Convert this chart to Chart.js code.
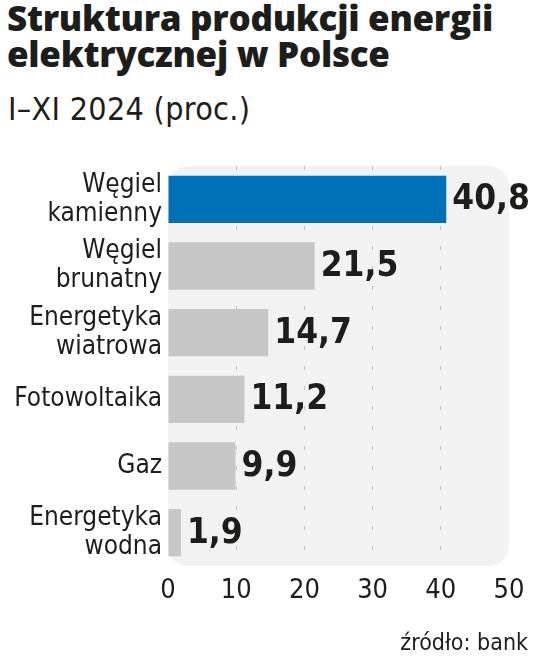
<!DOCTYPE html>
<html>
<head>
<meta charset="utf-8">
<script src="https://cdn.jsdelivr.net/npm/chart.js@4/dist/chart.umd.min.js"></script>
<style>
  html, body { margin: 0; padding: 0; background: #ffffff; }
  body { width: 536px; height: 659px; position: relative; overflow: hidden; color: #1d1d1b; }
  #title { position: absolute; left: 7px; top: 0px; font-family: "Open Sans", sans-serif; font-weight: 800; font-size: 35px; line-height: 36px; letter-spacing: -0.3px; white-space: nowrap; }
  #subtitle { position: absolute; left: 8px; top: 93px; font-family: "DejaVu Sans Condensed", sans-serif; font-size: 32px; line-height: 32px; letter-spacing: 0.3px; white-space: nowrap; }
  #source { position: absolute; right: 8px; top: 631px; font-family: "DejaVu Sans Condensed", sans-serif; font-size: 23px; line-height: 23px; white-space: nowrap; }
  #chart { position: absolute; left: 0; top: 0; }
</style>
</head>
<body>
<div id="title">Struktura produkcji energii<br>elektrycznej w Polsce</div>
<div id="subtitle">I–XI 2024 (proc.)</div>
<canvas id="chart" width="536" height="659"></canvas>
<div id="source">źródło: bank</div>
<script>
const categories = [['Węgiel', 'kamienny'], ['Węgiel', 'brunatny'], ['Energetyka', 'wiatrowa'], 'Fotowoltaika', 'Gaz', ['Energetyka', 'wodna']];
const values = [40.8, 21.5, 14.7, 11.2, 9.9, 1.9];
const xTicks = [0, 10, 20, 30, 40, 50];
const valueLabels = values.map(v => v.toFixed(1).replace('.', ','));

const BLUE = '#0071b9';
const GRAY = '#c6c6c7';
const TEXT = '#1d1d1b';

const panelPlugin = {
  id: 'panel',
  beforeDraw(chart) {
    const { ctx, chartArea: a } = chart;
    ctx.save();
    ctx.fillStyle = '#f2f2f2';
    ctx.beginPath();
    ctx.roundRect(a.left, a.top, a.right - a.left, a.bottom - a.top, 20);
    ctx.fill();
    ctx.restore();
  }
};

const valuePlugin = {
  id: 'values',
  afterDatasetsDraw(chart) {
    const { ctx } = chart;
    const meta = chart.getDatasetMeta(0);
    ctx.save();
    ctx.font = 'bold 35px "DejaVu Sans Condensed", sans-serif';
    ctx.fillStyle = TEXT;
    ctx.textAlign = 'left';
    ctx.textBaseline = 'alphabetic';
    meta.data.forEach((bar, i) => {
      ctx.fillText(valueLabels[i], bar.x + 6, bar.y + 10);
    });
    ctx.restore();
  }
};

new Chart(document.getElementById('chart'), {
  type: 'bar',
  data: {
    labels: categories,
    datasets: [{
      data: values,
      backgroundColor: values.map((v, i) => i === 0 ? BLUE : GRAY),
      borderWidth: 0,
      barPercentage: 0.71,
      categoryPercentage: 1
    }]
  },
  options: {
    indexAxis: 'y',
    responsive: false,
    animation: false,
    devicePixelRatio: 1,
    layout: { padding: { top: 166, right: 27, left: 0, bottom: 0 } },
    plugins: { legend: { display: false }, tooltip: { enabled: false }, title: { display: false } },
    scales: {
      x: {
        min: xTicks[0],
        max: xTicks[xTicks.length - 1],
        afterBuildTicks(scale) { scale.ticks = xTicks.map(v => ({ value: v })); },
        afterFit(scale) { scale.height = 93; },
        ticks: {
          color: TEXT,
          padding: 9,
          font: { family: '"DejaVu Sans Condensed", sans-serif', size: 27 },
          callback: v => String(v)
        },
        grid: {
          drawTicks: false,
          lineWidth: 1,
          color: c => (c.tick && c.tick.value > xTicks[0] && c.tick.value < xTicks[xTicks.length - 1]) ? '#c2c2c2' : 'rgba(0,0,0,0)'
        },
        border: { display: false, dash: [4, 16] }
      },
      y: {
        afterFit(scale) { scale.width = 168; },
        ticks: {
          color: TEXT,
          padding: 6,
          font: { family: '"DejaVu Sans Condensed", sans-serif', size: 26, lineHeight: 1.12 }
        },
        grid: { display: false, drawTicks: false },
        border: { display: false }
      }
    }
  },
  plugins: [panelPlugin, valuePlugin]
});
</script>
</body>
</html>
